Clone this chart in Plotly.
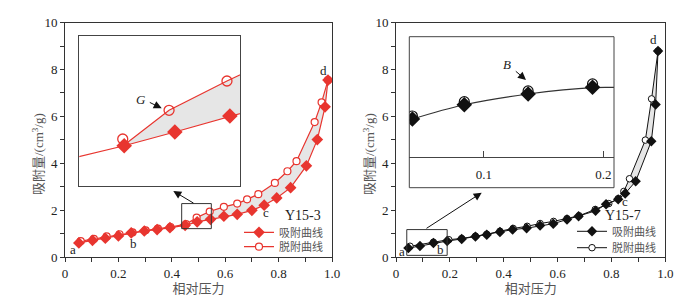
import plotly.graph_objects as go

# ---------------- data ----------------
# Left panel: Y15-3
left_ads_x = [0.052, 0.103, 0.151, 0.200, 0.248, 0.297, 0.345, 0.393, 0.450, 0.495, 0.545,
              0.595, 0.645, 0.700, 0.746, 0.793, 0.845, 0.904, 0.945, 0.974, 0.985]
left_ads_y = [0.60, 0.71, 0.80, 0.90, 1.03, 1.11, 1.17, 1.25, 1.35, 1.50, 1.61,
              1.74, 1.82, 1.99, 2.21, 2.52, 2.96, 3.89, 5.01, 6.41, 7.55]
left_des_x = [0.059, 0.108, 0.156, 0.204, 0.253, 0.302, 0.348, 0.395, 0.453, 0.493, 0.542,
              0.595, 0.645, 0.682, 0.724, 0.786, 0.833, 0.867, 0.935, 0.961, 0.985]
left_des_y = [0.68, 0.77, 0.88, 0.97, 1.05, 1.14, 1.21, 1.28, 1.40, 1.68, 1.94,
              2.14, 2.28, 2.46, 2.68, 3.16, 3.66, 4.09, 5.76, 6.60, 7.55]

# Left inset (zoom of box region)
inset_l_ads_x = [0.420, 0.468, 0.503, 0.541, 0.560]
inset_l_ads_y = [1.375, 1.495, 1.593, 1.707, 1.76]
inset_l_des_x = [0.468, 0.499, 0.539, 0.560]
inset_l_des_y = [1.50, 1.748, 1.957, 2.06]
inset_l_mark_ads_x = [0.468, 0.503, 0.541]
inset_l_mark_ads_y = [1.495, 1.593, 1.707]
inset_l_mark_des_x = [0.467, 0.499, 0.539]
inset_l_mark_des_y = [1.543, 1.748, 1.957]

# Right panel: Y15-7
right_ads_x = [0.046, 0.089, 0.139, 0.190, 0.244, 0.295, 0.337, 0.386, 0.433, 0.485, 0.535,
               0.584, 0.635, 0.678, 0.741, 0.780, 0.825, 0.851, 0.890, 0.948, 0.964, 0.973]
right_ads_y = [0.38, 0.47, 0.60, 0.68, 0.77, 0.87, 0.95, 1.07, 1.17, 1.23, 1.34,
               1.42, 1.60, 1.74, 1.97, 2.25, 2.46, 2.71, 3.23, 4.94, 6.51, 8.79]
right_des_x = [0.052, 0.139, 0.196, 0.244, 0.295, 0.337, 0.386, 0.435, 0.487, 0.535, 0.585,
               0.635, 0.680, 0.740, 0.790, 0.825, 0.846, 0.867, 0.926, 0.949, 0.973]
right_des_y = [0.46, 0.63, 0.74, 0.79, 0.89, 0.97, 1.10, 1.22, 1.31, 1.43, 1.52,
               1.64, 1.76, 2.03, 2.28, 2.49, 2.80, 3.34, 4.99, 6.75, 8.79]

# Right inset
inset_r_x = [0.040, 0.0835, 0.137, 0.191]
inset_r_ads_y = [0.411, 0.548, 0.651, 0.715]
inset_r_des_y = [0.44, 0.577, 0.68, 0.747]
inset_r_line_x = [0.040, 0.0835, 0.137, 0.191, 0.215]
inset_r_line_y = [0.411, 0.548, 0.651, 0.712, 0.712]

x_tickvals = [0, 0.2, 0.4, 0.6, 0.8, 1.0]
x_ticktext = ["0", "0.2", "0.4", "0.6", "0.8", "1.0"]
y_tickvals = [0, 2, 4, 6, 8, 10]
y_ticktext = ["0", "2", "4", "6", "8", "10"]
inset_r_tickvals = [0.1, 0.2]
inset_r_ticktext = ["0.1", "0.2"]

legend_ads = "吸附曲线"
legend_des = "脱附曲线"
x_title = "相对压力"
y_title = "吸附量/(cm<sup>3</sup>/g)"

RED = "#e8352f"
BLK = "#111111"
FILL = "#e6e6e6"
SERIF = "Liberation Serif, Times New Roman, serif"
CJK = "Liberation Serif, Noto Sans CJK SC, serif"

W, H = 700, 305
def px(v):
    return v / W
def py(v):
    return (H - v) / H

fig = go.Figure()

# ---- left main fill ----
lt = 0.45
fx = [x for x in left_des_x if x >= lt] + [x for x in left_ads_x if x >= lt][::-1]
fy = [y for x, y in zip(left_des_x, left_des_y) if x >= lt] + \
     [y for x, y in zip(left_ads_x, left_ads_y) if x >= lt][::-1]
fig.add_trace(go.Scatter(x=fx, y=fy, fill="toself", fillcolor=FILL, mode="none",
                         showlegend=False, hoverinfo="skip", xaxis="x", yaxis="y"))
fig.add_trace(go.Scatter(x=left_des_x, y=left_des_y, mode="lines+markers", name=legend_des,
                         line=dict(color=RED, width=1.2),
                         marker=dict(symbol="circle", size=7, color="white",
                                     line=dict(color=RED, width=1.2)),
                         legend="legend2", xaxis="x", yaxis="y"))
fig.add_trace(go.Scatter(x=left_ads_x, y=left_ads_y, mode="lines+markers", name=legend_ads,
                         line=dict(color=RED, width=1.2),
                         marker=dict(symbol="diamond", size=9, color=RED),
                         legend="legend", xaxis="x", yaxis="y"))

# ---- right main fill ----
rt = 0.82
gx = [x for x in right_des_x if x >= rt] + [x for x in right_ads_x if x >= rt][::-1]
gy = [y for x, y in zip(right_des_x, right_des_y) if x >= rt] + \
     [y for x, y in zip(right_ads_x, right_ads_y) if x >= rt][::-1]
fig.add_trace(go.Scatter(x=gx, y=gy, fill="toself", fillcolor=FILL, mode="none",
                         showlegend=False, hoverinfo="skip", xaxis="x2", yaxis="y2"))
fig.add_trace(go.Scatter(x=right_des_x, y=right_des_y, mode="lines+markers", name=legend_des,
                         line=dict(color=BLK, width=1),
                         marker=dict(symbol="circle", size=6.5, color="white",
                                     line=dict(color=BLK, width=1)),
                         legend="legend4", xaxis="x2", yaxis="y2"))
fig.add_trace(go.Scatter(x=right_ads_x, y=right_ads_y, mode="lines+markers", name=legend_ads,
                         line=dict(color=BLK, width=1),
                         marker=dict(symbol="diamond", size=8, color=BLK),
                         legend="legend3", xaxis="x2", yaxis="y2"))

# ---- left inset ----
ifx = inset_l_des_x + inset_l_ads_x[1:][::-1]
ify = inset_l_des_y + inset_l_ads_y[1:][::-1]
fig.add_trace(go.Scatter(x=ifx, y=ify, fill="toself", fillcolor=FILL, mode="none",
                         showlegend=False, hoverinfo="skip", xaxis="x3", yaxis="y3"))
fig.add_trace(go.Scatter(x=inset_l_des_x, y=inset_l_des_y, mode="lines", showlegend=False,
                         line=dict(color=RED, width=1.2), xaxis="x3", yaxis="y3"))
fig.add_trace(go.Scatter(x=inset_l_ads_x, y=inset_l_ads_y, mode="lines", showlegend=False,
                         line=dict(color=RED, width=1.2), xaxis="x3", yaxis="y3"))
fig.add_trace(go.Scatter(x=inset_l_mark_des_x, y=inset_l_mark_des_y, mode="markers", showlegend=False,
                         marker=dict(symbol="circle", size=10, color="rgba(255,255,255,0)",
                                     line=dict(color=RED, width=1.3)), xaxis="x3", yaxis="y3"))
fig.add_trace(go.Scatter(x=inset_l_mark_ads_x, y=inset_l_mark_ads_y, mode="markers", showlegend=False,
                         marker=dict(symbol="diamond", size=12, color=RED), xaxis="x3", yaxis="y3"))

# ---- right inset ----
fig.add_trace(go.Scatter(x=inset_r_line_x, y=inset_r_line_y, mode="lines", showlegend=False,
                         line=dict(color="#333333", width=1.2, shape="spline"), xaxis="x4", yaxis="y4"))
fig.add_trace(go.Scatter(x=inset_r_x, y=inset_r_des_y, mode="markers", showlegend=False,
                         marker=dict(symbol="circle", size=10, color="white",
                                     line=dict(color=BLK, width=1.2)), xaxis="x4", yaxis="y4"))
fig.add_trace(go.Scatter(x=inset_r_x, y=inset_r_ads_y, mode="markers", showlegend=False,
                         marker=dict(symbol="diamond", size=12, color=BLK), xaxis="x4", yaxis="y4"))

AX = "#333333"
def main_x(domain):
    return dict(domain=domain, range=[0, 1.0], tickvals=x_tickvals, ticktext=x_ticktext,
                ticks="outside", ticklen=4, tickcolor=AX, showline=True, linecolor=AX,
                linewidth=1, mirror=True, showgrid=False, zeroline=False,
                minor=dict(dtick=0.1, ticks="outside", ticklen=4, tickcolor=AX),
                tickfont=dict(family=SERIF, size=13, color="#222"),
                title=dict(text=x_title, font=dict(family=CJK, size=13, color="#555"), standoff=4),
                automargin=False, fixedrange=True)

def main_y(domain, anchor):
    return dict(domain=domain, range=[0, 10], tickvals=y_tickvals, ticktext=y_ticktext,
                ticks="outside", ticklen=4, tickcolor=AX, showline=True, linecolor=AX,
                linewidth=1, mirror=True, showgrid=False, zeroline=False, anchor=anchor,
                minor=dict(dtick=1, ticks="outside", ticklen=4, tickcolor=AX),
                tickfont=dict(family=SERIF, size=13, color="#222"),
                automargin=False, fixedrange=True)

ydom = [py(257), py(22.7)]
fig.update_layout(
    width=W, height=H, margin=dict(l=0, r=0, t=0, b=0),
    paper_bgcolor="white", plot_bgcolor="white",
    xaxis=main_x([px(65), px(332)]),
    yaxis=main_y(ydom, "x"),
    xaxis2=dict(main_x([px(396), px(665.3)]), anchor="y2"),
    yaxis2=main_y(ydom, "x2"),
    xaxis3=dict(domain=[px(79.3), px(240)], range=[0.437, 0.548], anchor="y3",
                showline=True, mirror=True, linecolor="#444", linewidth=1,
                showticklabels=False, ticks="", showgrid=False, zeroline=False, fixedrange=True),
    yaxis3=dict(domain=[py(185.7), py(35.7)], range=[1.21, 2.28], anchor="x3",
                showline=True, mirror=True, linecolor="#444", linewidth=1,
                showticklabels=False, ticks="", showgrid=False, zeroline=False, fixedrange=True),
    xaxis4=dict(domain=[px(409.3), px(614)], range=[0.0374, 0.209], anchor="y4",
                showline=True, mirror=False, linecolor="#444", linewidth=1,
                tickvals=inset_r_tickvals, ticktext=inset_r_ticktext, ticks="inside",
                ticklen=6, tickcolor="#444", ticklabelstandoff=6,
                tickfont=dict(family=SERIF, size=13, color="#222"),
                showgrid=False, zeroline=False, fixedrange=True),
    yaxis4=dict(domain=[py(156.7), py(36.7)], range=[0.05, 1.2], anchor="x4",
                visible=False, fixedrange=True),
    showlegend=True,
)

leg_common = dict(bgcolor="rgba(0,0,0,0)", font=dict(family="Noto Sans CJK SC", size=11, color="#555"),
                  xanchor="left", yanchor="middle", itemwidth=30, borderwidth=0)
fig.update_layout(
    legend=dict(leg_common, x=px(239), y=py(232.3)),
    legend2=dict(leg_common, x=px(239), y=py(246.7)),
    legend3=dict(leg_common, x=px(572), y=py(231.3)),
    legend4=dict(leg_common, x=px(572), y=py(247.7)),
)

# box shapes
fig.add_shape(type="rect", xref="x", yref="y", x0=0.437, x1=0.548, y0=1.21, y1=2.28,
              line=dict(color="#333", width=1), layer="above")
fig.add_shape(type="rect", xref="x2", yref="y2", x0=0.04, x1=0.19, y0=0.07, y1=1.17,
              line=dict(color="#333", width=1), layer="above")
fig.add_shape(type="rect", xref="paper", yref="paper", x0=px(409.3), x1=px(614),
              y0=py(187.7), y1=py(36.7), line=dict(color="#444", width=1), layer="above")

# y-axis titles
for cx in (38, 369):
    fig.add_annotation(x=px(cx), y=py(154), xref="paper", yref="paper", text=y_title,
                       showarrow=False, textangle=-90, xanchor="center", yanchor="middle",
                       font=dict(family=CJK, size=13, color="#555"))

def txt(x, y, t, xref, yref, size=13, italic=False, fam=SERIF):
    fig.add_annotation(x=x, y=y, xref=xref, yref=yref, text=t, showarrow=False,
                       xanchor="center", yanchor="middle",
                       font=dict(family=fam, size=size, color="#222",
                                 style="italic" if italic else "normal"))

# left labels
txt(0.029, 0.34, "a", "x", "y")
txt(0.255, 0.56, "b", "x", "y")
txt(0.752, 1.92, "c", "x", "y")
txt(0.970, 7.95, "d", "x", "y")
txt(0.891, 1.79, "Y15-3", "x", "y", size=14)
# right labels
txt(0.022, 0.23, "a", "x2", "y2")
txt(0.167, 0.30, "b", "x2", "y2")
txt(0.852, 2.36, "c", "x2", "y2")
txt(0.844, 1.77, "Y15-7", "x2", "y2", size=14)
txt(0.958, 9.27, "d", "x2", "y2")
# G / B
txt(px(140.5), py(99.3), "G", "paper", "paper", size=13, italic=True)
txt(px(506.5), py(64.3), "B", "paper", "paper", size=13, italic=True)

def arrow(hx, hy, tx, ty, size=1.4):
    fig.add_annotation(x=px(hx), y=py(hy), xref="paper", yref="paper",
                       ax=tx - hx, ay=ty - hy, axref="pixel", ayref="pixel",
                       showarrow=True, arrowhead=2, arrowsize=size, arrowwidth=1,
                       arrowcolor="#111", text="", standoff=0)

arrow(173.3, 191, 195, 204, 1.6)
arrow(481.7, 192.7, 425, 229.3, 1.6)
arrow(161.7, 108.3, 148.3, 101.7, 1.6)
arrow(526, 80, 514.3, 70, 1.6)

fig.write_html("out.html", config={"displayModeBar": False},
               post_script="document.body.style.margin='0';document.body.style.padding='0';")
